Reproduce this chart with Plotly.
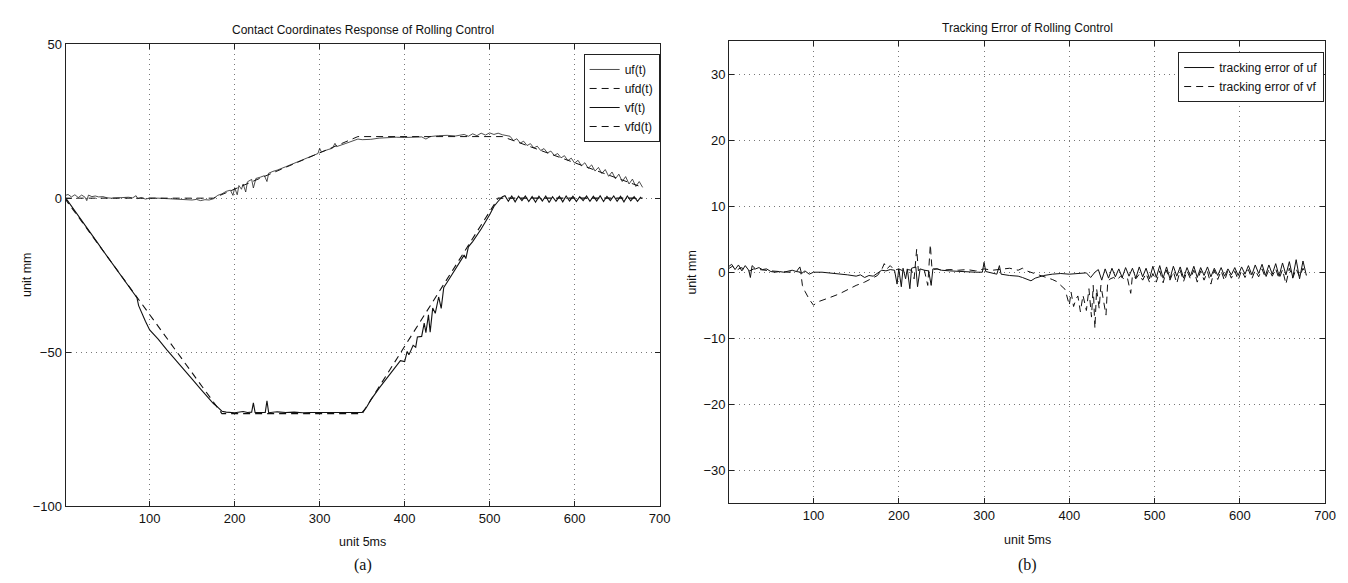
import plotly.graph_objects as go

# ---------------- data ----------------
# (a) contact coordinates
uf_x = [0, 4, 8, 12, 16, 20, 24, 26, 28, 32, 36, 40, 45, 50, 55, 60, 65, 70, 75, 80,
        84, 86, 90, 95, 100, 110, 120, 130, 140, 150, 155, 160, 165, 170, 175,
        180, 185, 190, 195, 198, 200, 203, 205, 208, 210, 213, 215, 220, 222, 225,
        230, 235, 238, 240, 245, 250, 260, 270, 280, 290, 298, 300, 302, 310, 315,
        318, 320, 330, 340, 345, 350, 360, 370, 380, 390, 400, 410, 420, 425, 430,
        440, 450, 460, 470, 475, 480, 485, 490, 495, 500, 505, 510, 515, 520] + list(range(524, 681, 4))
uf_y = [0.8, 1.2, 0.4, 1.1, 0.2, 1.0, 0.3, -0.8, 1.0, 0.5, 0.7, 0.4, 0.5, 0.1, 0.0, 0.1, 0.0, 0.2, 0.3, 0.1,
        0.8, -0.2, 0.2, -0.3, 0.0, 0.0, -0.1, -0.3, -0.4, -0.6, -0.4, -0.8, -0.5, -0.6, -0.2,
        0.9, 1.4, 2.2, 2.6, 0.9, 3.4, 1.1, 4.1, 2.9, 4.6, 2.0, 5.3, 6.1, 3.3, 6.4,
        6.8, 7.3, 5.4, 8.1, 8.7, 9.1, 10.2, 11.3, 12.35, 13.5, 14.5, 16.2, 15.0, 15.8, 16.2,
        17.8, 16.75, 17.7, 18.8, 19.2, 19.0, 19.1, 19.5, 19.7, 19.8, 19.7, 19.8, 19.9, 19.2, 20.0,
        20.3, 20.4, 20.2, 20.7, 20.1, 20.9, 20.3, 21.1, 20.5, 21.2, 20.7, 21.1, 20.6, 20.2,
        20.1, 18.7, 19.3, 17.9, 18.5, 17.1, 17.7, 16.3, 16.9, 15.5, 16.1, 14.7, 15.3, 13.9, 14.5,
        13.1, 13.8, 12.2, 13.0, 11.4, 12.3, 10.5, 11.5, 9.7, 10.8, 8.8, 10.0, 8.0, 9.3, 7.1,
        8.5, 6.3, 7.8, 5.4, 7.0, 4.6, 6.2, 3.8, 5.4, 3.5]

ufd_x = [0, 175, 345, 515, 680]
ufd_y = [0, 0, 20, 20, 3.5]

vf_x = [0, 5, 10, 15, 20, 25, 30, 35, 40, 45, 50, 55, 60, 65, 70, 75, 80, 85,
        87, 90, 95, 100, 105, 110, 120, 130, 140, 150, 160, 170, 175, 180, 185, 190,
        200, 210, 215, 220, 222, 224, 230, 236, 238, 240,
        250, 260, 270, 280, 290, 300, 310, 320, 330, 340, 350,
        355, 360, 370, 380, 390, 395, 400, 403, 405, 410, 413, 415, 420, 423, 425, 428,
        430, 433, 436, 440, 443, 446, 450,
        460, 470, 472, 475, 480, 490, 500, 505, 510, 515] + list(range(518, 679, 4))
vf_y = [0.5, -1.4, -3.3, -5.4, -7.3, -9.3, -11.2, -13.1, -15.0, -17.0, -18.9, -20.7, -22.7, -24.6,
        -26.4, -28.3, -30.2, -32.3,
        -34.9, -37.0, -40.0, -42.8, -44.2, -45.8, -49.2, -52.5, -55.6, -58.8, -62.0, -65.2,
        -66.7, -67.9, -69.2, -69.5,
        -69.7, -69.3, -69.6, -69.5, -66.5, -69.6, -69.5, -69.6, -65.8, -69.7,
        -69.4, -69.6, -69.5, -69.7, -69.6, -69.6, -69.4, -69.6, -69.5, -69.5, -69.6,
        -68.0, -65.6, -61.7, -58.1, -54.5, -52.8, -53.1, -49.8, -50.9, -47.8, -48.4, -45.1,
        -44.9, -40.6, -43.7, -37.9, -43.5, -35.7, -37.4, -32.1, -35.8, -29.0, -27.3,
        -22.7, -18.5, -19.6, -15.8, -14.1, -10.0, -5.4, -2.7, -1.0, 0.5,
        0.8, -1.0, 0.7, -1.2, 0.6, -0.8, 0.7, -1.1, 0.5, -1.3,
        0.6, -0.9, 0.7, -1.4, 0.5, -1.0, 0.6, -1.2, 0.7, -0.9,
        0.6, -1.1, 0.5, -0.8, 0.7, -1.0, 0.6, -0.9, 0.8, -1.1,
        0.6, -0.8, 0.7, -1.0, 0.6, -1.2, 0.7, -0.9, 0.5, -1.0, 0.4]

vfd_x = [0, 185, 350, 510, 680]
vfd_y = [0, -70, -70, 0, 0]

# (b) tracking errors
eu_x = [0, 4, 8, 12, 16, 20, 24, 26, 28, 32, 36, 40, 45, 50, 55, 60, 65, 70, 75, 80,
        84, 86, 90, 95, 100, 110, 120, 130, 140, 150, 155, 160, 165, 170, 175,
        180, 185, 190, 195, 198, 200, 203, 205, 208, 210, 213, 215, 220, 222, 225,
        230, 235, 238, 240, 245, 250, 260, 270, 280, 290, 298, 300, 302, 310, 315,
        318, 320, 330, 340, 345, 350, 355, 360, 370, 380, 390, 400, 410, 420, 425, 430] + list(range(434, 679, 4))
eu_y = [0.8, 1.2, 0.4, 1.1, 0.2, 1.0, 0.3, -0.8, 1.0, 0.5, 0.7, 0.4, 0.5, 0.1, 0.0, 0.1, 0.0, 0.2, 0.3, 0.1,
        0.8, -0.2, 0.2, -0.3, 0.0, 0.0, -0.1, -0.3, -0.4, -0.6, -0.4, -0.8, -0.5, -0.6, -0.2,
        0.3, 0.2, 0.4, 0.3, -1.8, 0.5, -2.2, 0.6, -1.0, 0.5, -2.5, 0.6, 0.8, -2.2, 0.5,
        0.3, 0.2, -2.0, 0.5, 0.5, 0.3, 0.2, 0.1, 0.0, 0.0, 0.0, 1.5, 0.1, -0.1, -0.3,
        1.0, -0.3, -0.5, -0.6, -0.8, -1.0, -1.3, -0.9, -0.5, -0.3, -0.2, -0.3, -0.2, -0.1, -0.8, 0.0,
        0.4, -1.2, 0.5, -0.9, 0.6, -0.7, 0.5, -0.8, 0.7, -0.6,
        0.6, -0.9, 0.8, -0.7, 0.6, -1.0, 0.9, -0.8, 1.0, -0.9,
        0.8, -1.0, 0.9, -0.6, 0.8, -0.9, 0.7, -0.6, 0.9, -0.8,
        0.7, -0.5, 0.8, -0.7, 0.6, -0.5, 0.7, -0.6, 0.5, -0.4,
        0.7, -0.5, 0.8, -0.3, 1.0, -0.4, 1.1, -0.2, 1.2, -0.5,
        1.1, -0.3, 1.3, -0.6, 1.4, -0.4, 1.6, -0.8, 1.9, -1.0,
        1.7, -0.5]

ev_x = [0, 5, 10, 15, 20, 25, 30, 40, 50, 60, 70, 80, 85, 87, 90, 95, 100, 105, 110, 115, 120,
        130, 140, 150, 160, 170, 175, 180, 183, 186, 190, 195, 200, 205, 210, 215,
        218, 221, 223, 226, 230, 234, 237, 239, 245, 250, 260, 270, 280, 290, 300,
        310, 320, 330, 340, 345, 350, 355, 360, 365, 370, 375, 380, 385, 390, 395,
        400, 402, 405, 408, 410, 413, 416, 420, 423, 426, 428, 430, 432, 435, 437,
        440, 443, 445, 448, 452, 456, 460, 464, 468, 472, 474, 478, 482, 486, 490,
        494, 498] + list(range(502, 679, 4))
ev_y = [0.5, 0.9, 0.3, 0.7, 0.4, 0.2, 0.5, 0.3, 0.2, 0.1, 0.0, 0.1, 0.0, -2.0, -2.9, -4.1, -5.0,
        -4.5, -4.3, -4.0, -3.8, -3.3, -2.6, -2.0, -1.5, -0.9, -0.5, 0.4, 1.3, 0.5, 1.0,
        0.3, 0.5, 0.2, 0.4, 0.3, -1.0, 3.5, 0.2, 0.6, 0.3, -2.0, 4.2, 0.4, 0.5, 0.3,
        0.4, 0.3, 0.4, 0.2, 0.5, 0.3, 0.4, 0.6, 0.3, 0.6, 0.2, 0.0, -0.2, -0.5, -0.6,
        -0.9, -1.1, -1.4, -2.0, -2.6, -5.0, -3.0, -5.2, -4.0, -3.6, -6.0, -3.5, -5.8, -2.5, -6.8,
        -2.0, -8.5, -2.5, -5.5, -2.0, -4.0, -6.5, -1.5, -1.0, -0.8, -1.2, -0.6, -1.0, -0.8, -3.2,
        -0.5, -1.0, -0.3, -1.2, -0.2, -1.5, -0.2,
        -1.5, 0.2, -1.6, 0.3, -1.2, 0.1, -1.7, 0.3, -1.4, 0.2,
        -1.0, 0.3, -1.5, 0.2, -1.2, 0.1, -1.8, 0.3, -1.1, 0.2,
        -1.3, 0.3, -0.9, 0.2, -1.2, 0.3, -0.8, 0.4, -1.0, 0.3,
        -0.7, 0.5, -0.9, 0.4, -0.6, 0.5, -1.0, 0.4, -1.8, 0.6,
        -0.9, 0.5, -0.7, 0.6, -0.4]

x_ticks = [100, 200, 300, 400, 500, 600, 700]
y_ticks_a = [-100, -50, 0, 50]
y_ticks_b = [-30, -20, -10, 0, 10, 20, 30]

# ---------------- figure ----------------
W, H = 1348, 583
def px(v):
    return v / W
def py(v):
    return 1 - v / H

FONT = "Liberation Sans, Arial, Helvetica, sans-serif"
DASH = "7px,5px"

fig = go.Figure()
fig.add_trace(go.Scatter(x=uf_x, y=uf_y, mode="lines", name="uf(t)",
                         line=dict(color="#222", width=0.8), xaxis="x", yaxis="y", legend="legend"))
fig.add_trace(go.Scatter(x=ufd_x, y=ufd_y, mode="lines", name="ufd(t)",
                         line=dict(color="#111", width=1, dash=DASH), xaxis="x", yaxis="y", legend="legend"))
fig.add_trace(go.Scatter(x=vf_x, y=vf_y, mode="lines", name="vf(t)",
                         line=dict(color="#111", width=1.1), xaxis="x", yaxis="y", legend="legend"))
fig.add_trace(go.Scatter(x=vfd_x, y=vfd_y, mode="lines", name="vfd(t)",
                         line=dict(color="#111", width=1.1, dash=DASH), xaxis="x", yaxis="y", legend="legend"))
fig.add_trace(go.Scatter(x=eu_x, y=eu_y, mode="lines", name="tracking error of uf",
                         line=dict(color="#111", width=1), xaxis="x2", yaxis="y2", legend="legend2"))
fig.add_trace(go.Scatter(x=ev_x, y=ev_y, mode="lines", name="tracking error of vf",
                         line=dict(color="#111", width=1, dash=DASH), xaxis="x2", yaxis="y2", legend="legend2"))

axis_style = dict(showline=True, linecolor="#222", linewidth=1, mirror="ticks",
                  ticks="inside", ticklen=5, tickcolor="#222",
                  showgrid=True, gridcolor="#777", gridwidth=1, griddash="1px,4px",
                  zeroline=False, tickfont=dict(family=FONT, size=13, color="#111"))

legend_style = dict(xanchor="right", yanchor="top", bgcolor="white", bordercolor="#222",
                    borderwidth=1, font=dict(family=FONT, size=12, color="#111"),
                    tracegroupgap=0, itemwidth=30)

fig.update_layout(
    width=W, height=H, margin=dict(l=0, r=0, t=0, b=0),
    paper_bgcolor="white", plot_bgcolor="white",
    xaxis=dict(domain=[px(58), px(657)], range=[1, 700], tickvals=x_ticks, anchor="y", **axis_style),
    yaxis=dict(domain=[py(504), py(30)], range=[-100, 50], tickvals=y_ticks_a, anchor="x", **axis_style),
    xaxis2=dict(domain=[px(727), px(1328)], range=[1, 700], tickvals=x_ticks, anchor="y2", **axis_style),
    yaxis2=dict(domain=[py(501), py(27)], range=[-35, 35], tickvals=y_ticks_b, anchor="x2", **axis_style),
    legend=dict(x=px(657), y=py(40), **legend_style),
    legend2=dict(x=px(1327), y=py(38), **legend_style),
    showlegend=True,
)

def note(text, x, y, size=12, family=FONT, angle=0):
    fig.add_annotation(text=text, x=x, y=y, xref="paper", yref="paper", showarrow=False,
                       xanchor="center", yanchor="middle", textangle=angle,
                       font=dict(family=family, size=size, color="#111"))

note("Contact Coordinates Response of Rolling Control", px(357.5), py(15))
note("Tracking Error of Rolling Control", px(1027.5), py(13))
note("unit 5ms", px(357.5), py(541), size=12.5)
note("unit 5ms", px(1027.5), py(539), size=12.5)
note("unit mm", px(19), py(267), size=12.5, angle=-90)
note("unit mm", px(690), py(264), size=12.5, angle=-90)
note("(a)", px(357.5), py(565), size=16, family="Liberation Serif, Times New Roman, serif")
note("(b)", px(1027.5), py(565), size=16, family="Liberation Serif, Times New Roman, serif")

fig.write_html("out.html")
